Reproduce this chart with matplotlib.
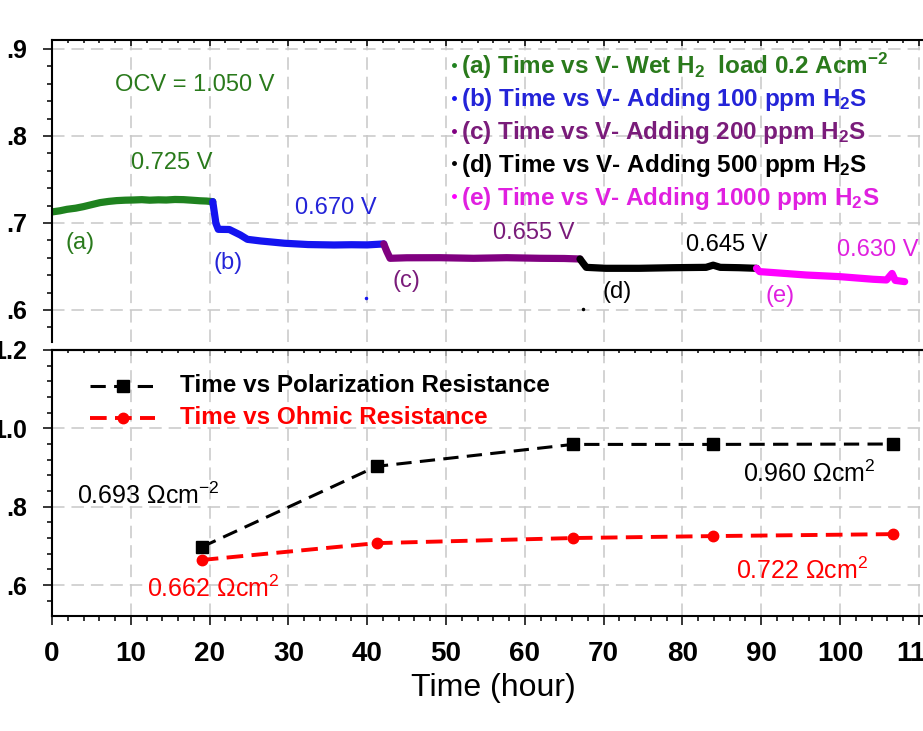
import matplotlib
matplotlib.use('Agg')
import matplotlib.pyplot as plt
from matplotlib.lines import Line2D
from matplotlib.ticker import MultipleLocator, FixedLocator, FuncFormatter
from matplotlib.transforms import Affine2D

plt.rcParams['font.family'] = ['Liberation Sans', 'DejaVu Sans']
plt.rcParams['mathtext.fontset'] = 'custom'
plt.rcParams['mathtext.rm'] = 'Liberation Sans'
plt.rcParams['mathtext.it'] = 'Liberation Sans:italic'
plt.rcParams['mathtext.bf'] = 'Liberation Sans:bold'
plt.rcParams['mathtext.default'] = 'regular'
plt.rcParams['lines.scale_dashes'] = False

# ---------------- data ----------------
# (a) wet H2
t_a = [0, 1.0, 1.9, 3.0, 4.0, 5.0, 6.1, 7.2, 8.2, 9.3, 10.3, 11.4, 12.4, 13.5, 14.5,
       15.6, 16.7, 17.7, 18.8, 19.6, 20.4]
v_a = [0.7127, 0.7140, 0.7157, 0.7170, 0.7188, 0.7210, 0.7234, 0.7248, 0.7257, 0.7262,
       0.7264, 0.7268, 0.7262, 0.7266, 0.7264, 0.7270, 0.7268, 0.7262, 0.7255, 0.7252, 0.7245]
# (b) 100 ppm H2S
t_b = [20.4, 20.6, 20.8, 21.1, 22.5, 23.9, 24.8, 26.5, 29.5, 32.5, 35.8, 38.0, 40.0, 42.1]
v_b = [0.7245, 0.7120, 0.6996, 0.6927, 0.6925, 0.6862, 0.6812, 0.6793, 0.6767, 0.6752,
       0.6747, 0.6750, 0.6748, 0.6759]
# (c) 200 ppm H2S
t_c = [42.1, 42.5, 42.9, 45.0, 49.2, 53.5, 57.7, 61.9, 65.0, 67.0]
v_c = [0.6759, 0.6670, 0.6594, 0.6600, 0.6601, 0.6594, 0.6601, 0.6594, 0.6592, 0.6586]
# (d) 500 ppm H2S
t_d = [67.0, 67.4, 67.8, 70.3, 74.5, 78.8, 83.0, 83.9, 84.8, 87.2, 89.4]
v_d = [0.6586, 0.6537, 0.6490, 0.6479, 0.6479, 0.6486, 0.6490, 0.6515, 0.6490, 0.6486, 0.6479]
# (e) 1000 ppm H2S
t_e = [89.4, 89.8, 91.5, 95.7, 100.0, 104.2, 105.9, 106.6, 107.0, 108.2]
v_e = [0.6479, 0.6441, 0.6430, 0.6402, 0.6383, 0.6353, 0.6345, 0.6420, 0.6340, 0.6326]
# stray single points
stray_b = (39.9, 0.614)
stray_d = (67.4, 0.601)

# resistances
t_res = [19.0, 41.2, 66.1, 83.9, 106.7]
r_pol = [0.697, 0.903, 0.959, 0.959, 0.960]
r_ohm = [0.664, 0.707, 0.720, 0.725, 0.730]

legend_top = [r'(a) Time vs V- Wet H$_2$  load 0.2 Acm$^{-2}$',
              r'(b) Time vs V- Adding 100 ppm H$_2$S',
              r'(c) Time vs V- Adding 200 ppm H$_2$S',
              r'(d) Time vs V- Adding 500 ppm H$_2$S',
              r'(e) Time vs V- Adding 1000 ppm H$_2$S']
legend_bot = ['Time vs Polarization Resistance', 'Time vs Ohmic Resistance']

# ---------------- style ----------------
GREEN, BLUE, PURPLE, BLACK, MAGENTA, RED = '#1f821f', '#1414f0', '#800080', '#000000', '#ff00ff', '#ff0000'
GREEN_T, BLUE_T, PURPLE_T, MAGENTA_T = '#2a7a1c', '#2424d8', '#7a1c7a', '#e020e0'
W, H, DPI = 923, 731, 100
fig = plt.figure(figsize=(W / DPI, H / DPI), dpi=DPI)
PX = Affine2D().scale(1.0 / W, -1.0 / H).translate(0, 1) + fig.transFigure

X0, XR = 52, 934.6   # axes left / right in pixels (right side cropped)
ax1 = fig.add_axes([X0 / W, 1 - 342 / H, (XR - X0) / W, (342 - 40) / H])
ax2 = fig.add_axes([X0 / W, 1 - 616 / H, (XR - X0) / W, (616 - 350) / H])

GRID = dict(color='#c8c8c8', linewidth=1.1, linestyle=(0, (9, 5)))
for ax in (ax1, ax2):
    ax.set_xlim(0, 112)
    ax.xaxis.set_major_locator(MultipleLocator(10))
    ax.xaxis.set_minor_locator(MultipleLocator(2))
    for s in ax.spines.values():
        s.set_linewidth(1.5)
    ax.grid(True, which='major', **GRID)
    ax.set_axisbelow(True)
    ax.tick_params(axis='y', which='major', direction='out', length=6.5, width=1.1,
                   labelsize=18, pad=11.5)
    ax.tick_params(axis='y', which='minor', direction='out', length=3.6, width=1.1)
    for lab in ax.get_yticklabels():
        lab.set_fontweight('bold')

# top panel
ax1.set_ylim(0.5632, 0.9103)
ax1.yaxis.set_major_locator(FixedLocator([0.6, 0.7, 0.8, 0.9]))
ax1.yaxis.set_minor_locator(MultipleLocator(0.02))
ax1.yaxis.set_major_formatter(FuncFormatter(lambda v, p: ('%.1f' % v)[1:]))
ax1.spines['bottom'].set_visible(False)
ax1.tick_params(axis='x', which='both', bottom=False, top=True, labelbottom=False, direction='in')
ax1.tick_params(axis='x', which='major', length=4.3, width=1.1)
ax1.tick_params(axis='x', which='minor', length=2.2, width=1.1)

LW = 5.2
for tt, vv, cc in [(t_a, v_a, GREEN), (t_b, v_b, BLUE), (t_c, v_c, PURPLE),
                   (t_d, v_d, BLACK), (t_e, v_e, MAGENTA)]:
    ax1.plot(tt, vv, color=cc, lw=LW, solid_joinstyle='round', solid_capstyle='round')
ax1.plot([stray_b[0]], [stray_b[1]], marker='.', ms=3, color=BLUE, ls='')
ax1.plot([stray_d[0]], [stray_d[1]], marker='.', ms=3, color=BLACK, ls='')

# annotations (pixel coords of the image)
FS = 17
fig.text(195, 85, 'OCV = 1.050 V', color=GREEN_T, fontsize=FS, ha='center', va='center', transform=PX)
fig.text(172, 163, '0.725 V', color=GREEN_T, fontsize=FS, ha='center', va='center', transform=PX)
fig.text(80, 243, '(a)', color=GREEN_T, fontsize=FS, ha='center', va='center', transform=PX)
fig.text(228, 263, '(b)', color=BLUE_T, fontsize=FS, ha='center', va='center', transform=PX)
fig.text(336, 208, '0.670 V', color=BLUE_T, fontsize=FS, ha='center', va='center', transform=PX)
fig.text(406, 281, '(c)', color=PURPLE_T, fontsize=FS, ha='center', va='center', transform=PX)
fig.text(534, 233, '0.655 V', color=PURPLE_T, fontsize=FS, ha='center', va='center', transform=PX)
fig.text(617, 292, '(d)', color=BLACK, fontsize=FS, ha='center', va='center', transform=PX)
fig.text(727, 245, '0.645 V', color=BLACK, fontsize=FS, ha='center', va='center', transform=PX)
fig.text(780, 296, '(e)', color=MAGENTA_T, fontsize=FS, ha='center', va='center', transform=PX)
fig.text(878, 250, '0.630 V', color=MAGENTA_T, fontsize=FS, ha='center', va='center', transform=PX)

# top legend
leg_cols = [GREEN_T, BLUE_T, PURPLE_T, BLACK, MAGENTA_T]
leg_mk = [GREEN, BLUE, PURPLE, BLACK, MAGENTA]
for i, (lab, c, mc) in enumerate(zip(legend_top, leg_cols, leg_mk)):
    yc = 65 + i * 32.8
    fig.add_artist(Line2D([454], [yc], marker='.', ms=5, color=mc, ls='', transform=PX))
    fig.text(461, yc + 8.5, lab, color=c, fontsize=17.5, fontweight='bold',
             ha='left', va='baseline', transform=PX)

# bottom panel
ax2.set_ylim(0.521, 1.2)
ax2.yaxis.set_major_locator(FixedLocator([0.6, 0.8, 1.0, 1.2]))
ax2.yaxis.set_minor_locator(MultipleLocator(0.04))
ax2.yaxis.set_major_formatter(FuncFormatter(lambda v, p: ('%.1f' % v) if v >= 1 else ('%.1f' % v)[1:]))
ax2.tick_params(axis='x', which='both', bottom=True, top=False, direction='out',
                labelsize=20, pad=11.5, width=1.1)
ax2.tick_params(axis='x', which='major', length=6.5)
ax2.tick_params(axis='x', which='minor', length=3.6)
for lab in ax2.get_xticklabels():
    lab.set_fontweight('bold')
# inward ticks on top spine of the bottom panel
sec = ax2.secondary_xaxis('top')
sec.xaxis.set_major_locator(MultipleLocator(10))
sec.xaxis.set_minor_locator(MultipleLocator(2))
sec.tick_params(axis='x', which='both', direction='in', labeltop=False, width=1.1)
sec.tick_params(axis='x', which='major', length=4.3)
sec.tick_params(axis='x', which='minor', length=2.2)
sec.spines['top'].set_linewidth(1.5)

ax2.plot(t_res, r_pol, color=BLACK, lw=2.2, dashes=(11, 6), marker='s', ms=8.5, zorder=3)
ax2.plot(t_res, r_ohm, color=RED, lw=2.8, dashes=(12, 6), marker='o', ms=7.5, zorder=3)

ax2.set_xlabel('Time (hour)', fontsize=23, labelpad=4)

# bottom legend
for yc, c, mk, lw, ds, ms, lab in [(386, BLACK, 's', 2.2, (11, 6), 8.5, legend_bot[0]),
                                     (418, RED, 'o', 2.8, (12, 6), 7.5, legend_bot[1])]:
    fig.add_artist(Line2D([90, 155], [yc, yc], color=c, lw=lw, dashes=ds, transform=PX))
    fig.add_artist(Line2D([123], [yc], color=c, marker=mk, ms=ms, ls='', transform=PX))
    fig.text(180, yc, lab, color=c, fontsize=17.5, fontweight='bold', ha='left', va='center',
             transform=PX)

fig.text(77, 504, r'0.693 $\Omega$cm$^{-2}$', color=BLACK, fontsize=18, ha='left', va='baseline', transform=PX)
fig.text(147, 597, r'0.662 $\Omega$cm$^{2}$', color=RED, fontsize=18, ha='left', va='baseline', transform=PX)
fig.text(743, 482, r'0.960 $\Omega$cm$^{2}$', color=BLACK, fontsize=18, ha='left', va='baseline', transform=PX)
fig.text(736, 579, r'0.722 $\Omega$cm$^{2}$', color=RED, fontsize=18, ha='left', va='baseline', transform=PX)

fig.savefig('out.png', dpi=DPI)
